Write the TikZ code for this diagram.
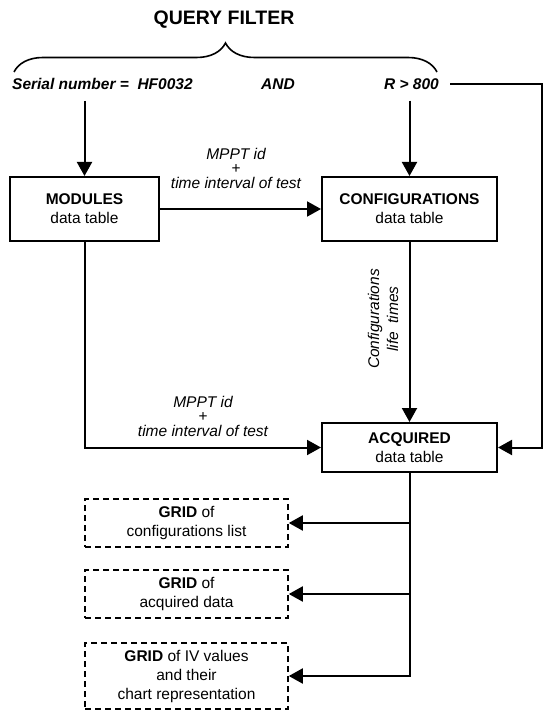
\documentclass[tikz,border=0pt]{standalone}
\usepackage{fontspec}
\setmainfont{Liberation Sans}
\usetikzlibrary{arrows.meta,decorations.pathreplacing}
\newcommand{\dfont}{\fontsize{15.5}{19}\selectfont}
\tikzset{
  tablebox/.style={draw,line width=2pt,align=center,inner sep=0pt,font=\dfont},
  gridbox/.style={draw,line width=1.6pt,dash pattern=on 6pt off 4pt,align=center,
    inner sep=0pt,minimum width=203pt,font=\dfont},
  filtertext/.style={inner sep=0pt,font=\dfont\bfseries\itshape},
  notetext/.style={align=center,inner sep=0pt,font=\dfont\itshape},
  flowarrow/.style={line width=2pt,-{Triangle[length=14pt,width=15pt]}},
}

\begin{document}
\begin{tikzpicture}[x=1pt,y=-1pt]
  \useasboundingbox (0,0) rectangle (544,711);
  % query filter
  \node[font=\fontsize{19.5}{22}\selectfont\bfseries] (title) at (224,20) {QUERY FILTER};
  \draw[line width=1.6pt,decorate,decoration={brace,amplitude=29pt}] (14,72) -- (437,72);
  \node[filtertext,anchor=west] (serial) at (12,84) {Serial number =\ \ HF0032};
  \node[filtertext] (andop) at (278,84) {AND};
  \node[filtertext,anchor=east] (rfilt) at (439,84) {R > 800};
  \coordinate (edgeR) at (542,0);

  % data tables
  \node[tablebox,minimum width=149pt,minimum height=64pt] (modules) at (84.5,209)
    {\textbf{MODULES}\\data table};
  \node[tablebox,minimum width=175pt,minimum height=64pt] (config) at (409.5,209)
    {\textbf{CONFIGURATIONS}\\data table};
  \node[tablebox,minimum width=175pt,minimum height=49pt] (acquired) at (409.5,447.5)
    {\textbf{ACQUIRED}\\data table};

  % grids
  \node[gridbox,minimum height=48pt] (grid1) at (186.5,523) {\textbf{GRID} of\\configurations list};
  \node[gridbox,minimum height=48pt] (grid2) at (186.5,594) {\textbf{GRID} of\\acquired data};
  \node[gridbox,minimum height=66pt] (grid3) at (186.5,676)
    {\textbf{GRID} of IV values\\and their\\chart representation};

  % labels
  \node[notetext] (mppt1) at (236,168) {MPPT id\\[-5pt]+\\[-4pt]time interval of test};
  \node[notetext] (mppt2) at (203,416) {MPPT id\\[-5pt]+\\[-4pt]time interval of test};
  \node[notetext,rotate=90] (lifetimes) at (383,319) {Configurations\\life\ \ times};

  % connectors
  \draw[flowarrow,shorten <=11pt] (serial.south -| modules.north) -- (modules.north);
  \draw[flowarrow,shorten <=11pt] (rfilt.south -| config.north) -- (config.north);
  \draw[flowarrow] (modules.east) -- (config.west);
  \draw[flowarrow] (config.south) -- (acquired.north);
  \draw[flowarrow] (modules.south) |- (acquired.west);
  \draw[flowarrow,shorten <=11pt] (rfilt.east) -- (rfilt.east -| edgeR) |- (acquired.east);
  \draw[flowarrow] (acquired.south) |- (grid3.east);
  \draw[flowarrow] (acquired.south |- grid1.east) -- (grid1.east);
  \draw[flowarrow] (acquired.south |- grid2.east) -- (grid2.east);
\end{tikzpicture}
\end{document}
